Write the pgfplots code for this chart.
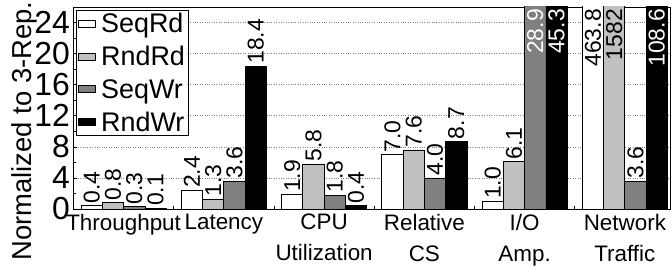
\documentclass[border=0pt]{standalone}
\usepackage{pgfplots}
\pgfplotsset{compat=1.18}
\usepackage{fontspec}
\setmainfont{Liberation Sans}
\definecolor{lg}{RGB}{192,192,192}
\definecolor{dg}{RGB}{128,128,128}
\begin{document}
\begin{tikzpicture}
\begin{axis}[
  scale only axis,
  width=597bp, height=202bp,
  xmin=-0.505, xmax=5.45,
  ymin=0, ymax=26,
  ybar=0pt, bar width=21.3bp,
  axis line style={black, line width=0.8bp},
  xtick={0,1,2,3,4,5},
  xticklabels={Throughput, Latency, CPU\\Utilization, Relative\\CS, I/O\\Amp., Network\\Traffic},
  minor xtick={0.5,1.5,2.5,3.5,4.5},
  major x tick style={draw=none},
  xtick pos=bottom,
  ytick={0,4,...,24},
  minor ytick={2,6,...,22},
  ytick pos=left,
  tick align=inside,
  major tick length=4bp,
  minor tick length=3bp,
  tick style={black, line width=0.6bp},
  ymajorgrids,
  grid style={dotted, gray, line width=0.6bp},
  /pgf/number format/assume math mode=true,
  yticklabel style={font=\fontsize{32}{32}\selectfont, inner sep=0pt, xshift=-3bp},
  xticklabel style={font=\fontsize{22.5}{31}\selectfont, align=center, inner sep=0pt, yshift=-5bp},
  ylabel={Normalized to 3-Rep.},
  ylabel style={font=\fontsize{27.5}{27.5}\selectfont, inner sep=0pt, anchor=base, at={(axis description cs:-0.0700,0.386)}},
  legend style={at={(axis description cs:0.005,0.985)}, anchor=north west, draw=black, line width=0.8bp,
    font=\fontsize{27}{27}\selectfont, row sep=10bp, column sep=4bp, inner sep=2bp,
    nodes={inner sep=1bp}, cells={anchor=west}},
  legend image code/.code={\draw[#1, line width=0.8bp] (0bp,-3bp) rectangle (17bp,4bp);},
  nodes near coords,
  point meta=explicit symbolic,
  every node near coord/.append style={font=\fontsize{23}{23}\selectfont, rotate=90, anchor=west, inner sep=2bp, black},
]
\addplot[bar shift=-31.95bp, fill=white, draw=black, line width=0.8bp] coordinates {
  (0,0.4) [0.4] (1,2.4) [2.4] (2,1.9) [1.9] (3,7.0) [7.0] (4,1.0) [1.0] (5,463.8) []
};
\addplot[bar shift=-10.65bp, fill=lg, draw=black, line width=0.8bp] coordinates {
  (0,0.8) [0.8] (1,1.3) [1.3] (2,5.8) [5.8] (3,7.6) [7.6] (4,6.1) [6.1] (5,1582) []
};
\addplot[bar shift=10.65bp, fill=dg, draw=black, line width=0.8bp] coordinates {
  (0,0.3) [0.3] (1,3.6) [3.6] (2,1.8) [1.8] (3,4.0) [4.0] (4,28.9) [] (5,3.6) [3.6]
};
\addplot[bar shift=31.95bp, fill=black, draw=black, line width=0.8bp] coordinates {
  (0,0.1) [0.1] (1,18.4) [18.4] (2,0.4) [0.4] (3,8.7) [8.7] (4,45.3) [] (5,108.6) []
};
\legend{SeqRd, RndRd, SeqWr, RndWr}
% labels of bars that run past the top of the axis
\addplot[forget plot, bar shift=-31.95bp, draw=none, fill=none,
  every node near coord/.append style={anchor=east, black}] coordinates {(5,26) [463.8]};
\addplot[forget plot, bar shift=-10.65bp, draw=none, fill=none,
  every node near coord/.append style={anchor=east, black}] coordinates {(5,26) [1582]};
\addplot[forget plot, bar shift=10.65bp, draw=none, fill=none,
  every node near coord/.append style={anchor=east, white}] coordinates {(4,26) [28.9]};
\addplot[forget plot, bar shift=31.95bp, draw=none, fill=none,
  every node near coord/.append style={anchor=east, white}] coordinates {(4,26) [45.3] (5,26) [108.6]};
\end{axis}
\pgfresetboundingbox
\path[use as bounding box] ([xshift=-73bp,yshift=-58bp]current axis.south west) rectangle ([xshift=1bp,yshift=7bp]current axis.north east);
\end{tikzpicture}
\end{document}
